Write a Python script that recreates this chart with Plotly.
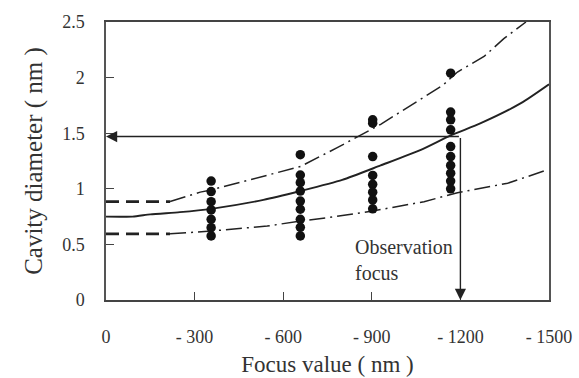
import plotly.graph_objects as go

# Focus values (nm) and cavity diameters (nm)
mid_x = [0, -90, -150, -250, -356, -533, -658, -800, -930, -1066, -1167, -1269, -1405, -1500]
mid_y = [0.75, 0.75, 0.77, 0.79, 0.82, 0.90, 0.98, 1.08, 1.21, 1.35, 1.48, 1.59, 1.77, 1.94]

upper_x = [0, -217, -319, -356, -546, -658, -783, -930, -990, -1140, -1190, -1280, -1347, -1422]
upper_y = [0.885, 0.885, 0.97, 0.99, 1.12, 1.20, 1.37, 1.58, 1.68, 1.93, 2.05, 2.19, 2.35, 2.50]

lower_x = [0, -217, -319, -356, -546, -658, -750, -903, -1077, -1190, -1360, -1483]
lower_y = [0.595, 0.595, 0.61, 0.62, 0.665, 0.71, 0.74, 0.80, 0.884, 0.965, 1.05, 1.16]

# Measured cavity diameters at four focus settings
meas_focus = [-356, -658, -903, -1167]
meas_diam = [
    [1.07, 0.975, 0.884, 0.81, 0.726, 0.65, 0.576],
    [1.307, 1.124, 1.055, 0.98, 0.89, 0.816, 0.726, 0.654, 0.576],
    [1.62, 1.59, 1.29, 1.12, 1.04, 0.97, 0.90, 0.82],
    [2.04, 1.69, 1.62, 1.53, 1.38, 1.29, 1.21, 1.14, 1.07, 1.00],
]

obs_focus = -1200
obs_diam = 1.47

x_ticks = [0, -300, -600, -900, -1200, -1500]
x_tick_text = ["0", "- 300", "- 600", "- 900", "- 1200", "- 1500"]
y_ticks = [0, 0.5, 1, 1.5, 2, 2.5]
y_tick_text = ["0", "0.5", "1", "1.5", "2", "2.5"]

SERIF = "Liberation Serif, Times New Roman, serif"
INK = "#222"

fig = go.Figure()

split = 2  # first segment of each bound drawn with heavy dashes
for xs, ys in [(upper_x, upper_y), (lower_x, lower_y)]:
    fig.add_trace(go.Scatter(x=xs[:split], y=ys[:split], mode="lines",
                             line=dict(color=INK, width=2.6, dash="13px,7px"),
                             showlegend=False, hoverinfo="skip"))
    fig.add_trace(go.Scatter(x=xs[split - 1:], y=ys[split - 1:], mode="lines",
                             line=dict(color=INK, width=1.5, dash="16px,5px,2px,5px"),
                             showlegend=False, hoverinfo="skip"))

fig.add_trace(go.Scatter(x=mid_x, y=mid_y, mode="lines",
                         line=dict(color=INK, width=1.9, shape="spline", smoothing=0.6),
                         showlegend=False, hoverinfo="skip"))

for fx, ds in zip(meas_focus, meas_diam):
    fig.add_trace(go.Scatter(x=[fx] * len(ds), y=ds, mode="markers",
                             marker=dict(color="#111", size=9.5),
                             showlegend=False, hoverinfo="skip"))

# Observation focus guide: horizontal arrow to the y axis, vertical arrow to the x axis
fig.add_annotation(x=0, y=obs_diam, ax=obs_focus, ay=obs_diam,
                   xref="x", yref="y", axref="x", ayref="y",
                   showarrow=True, arrowhead=2, arrowsize=1.6, arrowwidth=1.4,
                   arrowcolor=INK, text="", standoff=0)
fig.add_annotation(x=obs_focus, y=0, ax=obs_focus, ay=obs_diam,
                   xref="x", yref="y", axref="x", ayref="y",
                   showarrow=True, arrowhead=2, arrowsize=1.6, arrowwidth=1.4,
                   arrowcolor=INK, text="", standoff=0)
fig.add_annotation(x=-835, y=0.59, xref="x", yref="y", xanchor="left", yanchor="top",
                   text="Observation<br>focus", showarrow=False, align="left",
                   font=dict(family=SERIF, size=20, color="#333"))

fig.update_layout(
    width=579, height=378,
    margin=dict(l=106, r=30, t=22, b=78),
    paper_bgcolor="white", plot_bgcolor="white",
    font=dict(family=SERIF, color="#333"),
    xaxis=dict(range=[0, -1500], tickvals=x_ticks, ticktext=x_tick_text,
               ticks="inside", ticklen=8, tickcolor="#444", tickwidth=1.2,
               showgrid=False, zeroline=False, automargin=False,
               showline=True, linecolor="#444", linewidth=1.5, mirror=True,
               tickfont=dict(size=18, family=SERIF, color="#333"),
               ticklabelstandoff=20,
               title=dict(text="Focus value ( nm )", standoff=10,
                          font=dict(size=23, family=SERIF, color="#333"))),
    yaxis=dict(range=[0, 2.5], tickvals=y_ticks, ticktext=y_tick_text,
               ticks="inside", ticklen=8, tickcolor="#444", tickwidth=1.2,
               showgrid=False, zeroline=False, automargin=False,
               showline=True, linecolor="#555", linewidth=1.5, mirror=True,
               tickfont=dict(size=18, family=SERIF, color="#333"),
               ticklabelstandoff=16,
               title=dict(text="Cavity diameter ( nm )", standoff=12,
                          font=dict(size=25, family=SERIF, color="#333"))),
)

fig.write_html("out.html")
